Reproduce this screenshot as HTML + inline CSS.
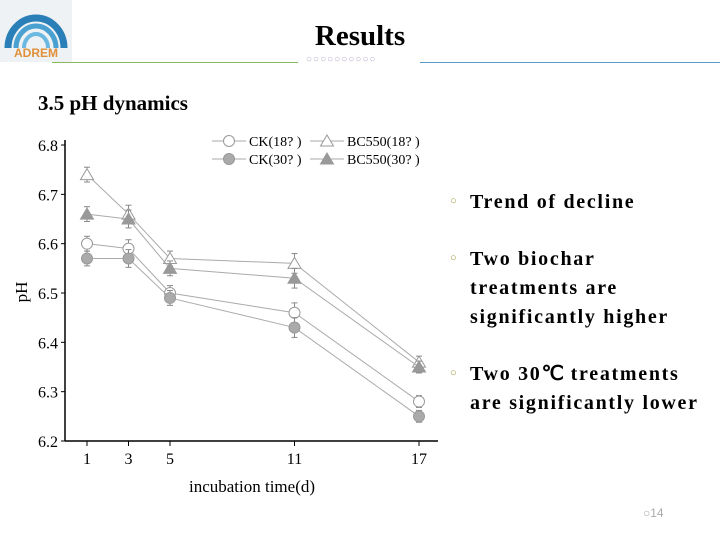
<!DOCTYPE html>
<html><head><meta charset="utf-8"><style>
body{margin:0;width:720px;height:540px;background:#fff;position:relative;overflow:hidden;font-family:"Liberation Serif",serif}
.abs{position:absolute}
.b{position:absolute;left:470px;font-size:20px;line-height:29px;color:#000;letter-spacing:1.7px;font-weight:bold;white-space:nowrap}
.dot{position:absolute;left:450px;font-size:11px;color:#9a9a40}
</style></head><body>
<svg class="abs" style="left:0;top:0" width="72" height="62">
<rect x="0" y="0" width="72" height="62" fill="#eef2f4"/>
<path d="M8 48 A28 30 0 0 1 64 48" stroke="#2a7fb8" stroke-width="7" fill="none"/>
<path d="M16 48 A20 22 0 0 1 56 48" stroke="#4aa0d0" stroke-width="5" fill="none"/>
<path d="M24 48 A12 14 0 0 1 48 48" stroke="#6bb8e0" stroke-width="4" fill="none"/>
<text x="36" y="57" font-family="Liberation Sans" font-size="12" font-weight="bold" fill="#e0903a" text-anchor="middle">ADREM</text>
</svg>
<div class="abs" style="left:0;width:720px;top:20px;text-align:center;font-size:29px;font-weight:bold">Results</div>
<div class="abs" style="left:52px;top:62px;width:246px;height:1px;background:#8ab85c"></div>
<div class="abs" style="left:420px;top:62px;width:300px;height:1px;background:#5a9cc8"></div>
<div class="abs" style="left:306px;top:54px;font-size:10px;color:#b8a8c8;letter-spacing:1px">○○○○○○○○○○</div>
<div class="abs" style="left:38px;top:91px;font-size:21px;font-weight:bold">3.5 pH dynamics</div>

<svg class="abs" id="chart" style="left:0;top:120px" width="450" height="390"></svg>

<span class="dot" style="top:195px">○</span>
<div class="b" style="top:188px">Trend of decline</div>
<span class="dot" style="top:252px">○</span>
<div class="b" style="top:245px">Two biochar<br>treatments are<br>significantly higher</div>
<span class="dot" style="top:367px">○</span>
<div class="b" style="top:360px">Two 30<span style="font-family:'Liberation Sans',sans-serif;letter-spacing:0">℃</span> treatments<br>are significantly lower</div>
<div class="abs" style="left:643px;top:506px;font-family:'Liberation Sans',sans-serif;font-size:12px;color:#aaa">○14</div>

<script>
const days=[1,3,5,11,17];
const ck18=[6.60,6.59,6.50,6.46,6.28];
const ck30=[6.57,6.57,6.49,6.43,6.25];
const bc18=[6.74,6.66,6.57,6.56,6.36];
const bc30=[6.66,6.65,6.55,6.53,6.35];
const err=[0.015,0.018,0.015,0.02,0.012];
const yTicks=[6.2,6.3,6.4,6.5,6.6,6.7,6.8];
const NS='http://www.w3.org/2000/svg';
const svg=document.getElementById('chart');
const X=d=>87+(d-1)*20.75;
const Y=v=>321-(v-6.2)*493.3;
function el(t,a,p){const e=document.createElementNS(NS,t);for(const k in a)e.setAttribute(k,a[k]);(p||svg).appendChild(e);return e;}
let ax=el('line',{x1:65,y1:20,x2:65,y2:321,stroke:'#000','stroke-width':1.5});

let bx=el('line',{x1:65,y1:321,x2:438,y2:321,stroke:'#000','stroke-width':1.5});

yTicks.forEach(v=>{
 el('line',{x1:61,x2:65,y1:Y(v),y2:Y(v),stroke:'#000'});
 let t=el('text',{x:58,y:Y(v)+6,'text-anchor':'end','font-size':16,'font-family':'Liberation Serif'});t.textContent=v.toFixed(1);
 
});
days.forEach(d=>{
 el('line',{x1:X(d),x2:X(d),y1:321,y2:326,stroke:'#000'});
 let t=el('text',{x:X(d),y:344,'text-anchor':'middle','font-size':16,'font-family':'Liberation Serif'});t.textContent=d;
 
});
let yt=el('text',{x:0,y:0,transform:'translate(27,172) rotate(-90)','text-anchor':'middle','font-size':17,'font-family':'Liberation Serif'});yt.textContent='pH';

let xt=el('text',{x:252,y:372,'text-anchor':'middle','font-size':17,'font-family':'Liberation Serif'});xt.textContent='incubation time(d)';

function marker(g,x,y,shape,fill){
 if(shape==='c')el('circle',{cx:x,cy:y,r:5.5,fill:fill,stroke:'#999'},g);
 else el('polygon',{points:`${x},${y-6} ${x+6.5},${y+5} ${x-6.5},${y+5}`,fill:fill,stroke:'#999'},g);
}
const series=[[ck18,'c','#fff','series-ck-18'],[ck30,'c','#aaa','series-ck-30'],[bc18,'t','#fff','series-bc550-18'],[bc30,'t','#999','series-bc550-30']];
series.forEach(([vals,sh,f,name])=>{
 const g=el('g',{});
 
 el('polyline',{points:vals.map((v,i)=>X(days[i])+','+Y(v)).join(' '),fill:'none',stroke:'#aaa','stroke-width':1},g);
 vals.forEach((v,i)=>{
  el('line',{x1:X(days[i]),x2:X(days[i]),y1:Y(v+err[i]),y2:Y(v-err[i]),stroke:'#888'},g);
  el('line',{x1:X(days[i])-3,x2:X(days[i])+3,y1:Y(v+err[i]),y2:Y(v+err[i]),stroke:'#888'},g);
  el('line',{x1:X(days[i])-3,x2:X(days[i])+3,y1:Y(v-err[i]),y2:Y(v-err[i]),stroke:'#888'},g);
  marker(g,X(days[i]),Y(v),sh,f);
 });
});
const legendLabels=['CK(18?  )','BC550(18?  )','CK(30?  )','BC550(30?  )'];
const lg=el('g',{});
[[0,'c','#fff',212,21],[1,'t','#fff',310,21],[2,'c','#aaa',212,39],[3,'t','#999',310,39]].forEach(([i,sh,f,x,y])=>{
 const g=el('g',{},lg);
 el('line',{x1:x,x2:x+34,y1:y,y2:y,stroke:'#aaa'},g);
 marker(g,x+17,y,sh,f);
 let t=el('text',{x:x+37,y:y+5,'font-size':14,'font-family':'Liberation Serif'},g);t.textContent=legendLabels[i];
});
</script>
</body></html>
